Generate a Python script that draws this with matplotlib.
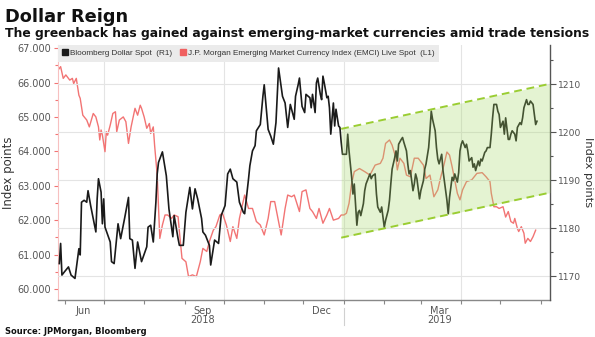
import matplotlib
matplotlib.use("Agg")
import matplotlib.pyplot as plt
import matplotlib.dates as mdates
import matplotlib.transforms as mtransforms
from matplotlib.lines import Line2D
from matplotlib.ticker import FixedLocator, FuncFormatter
import pandas as pd

# Bloomberg Dollar Spot (right axis)
black_dates = [
    '2018-05-28', '2018-05-29', '2018-05-30', '2018-06-01', '2018-06-04', '2018-06-06', '2018-06-09',
    '2018-06-11', '2018-06-12', '2018-06-13', '2018-06-14', '2018-06-16', '2018-06-18', '2018-06-19',
    '2018-06-21', '2018-06-25', '2018-06-26', '2018-06-27', '2018-06-29', '2018-06-30', '2018-07-01',
    '2018-07-02', '2018-07-06', '2018-07-07', '2018-07-09', '2018-07-12', '2018-07-14', '2018-07-17',
    '2018-07-20', '2018-07-21', '2018-07-23', '2018-07-25', '2018-07-27', '2018-07-30', '2018-08-03',
    '2018-08-04', '2018-08-06', '2018-08-08', '2018-08-10', '2018-08-11', '2018-08-12', '2018-08-15',
    '2018-08-18', '2018-08-20', '2018-08-23', '2018-08-24', '2018-08-27', '2018-08-28', '2018-08-31',
    '2018-09-02', '2018-09-05', '2018-09-07', '2018-09-09', '2018-09-11', '2018-09-14', '2018-09-15',
    '2018-09-17', '2018-09-20', '2018-09-21', '2018-09-24', '2018-09-27', '2018-09-29', '2018-10-02',
    '2018-10-04', '2018-10-06', '2018-10-08', '2018-10-11', '2018-10-13', '2018-10-16', '2018-10-17',
    '2018-10-20', '2018-10-21', '2018-10-23', '2018-10-25', '2018-10-26', '2018-10-29', '2018-10-31',
    '2018-11-01', '2018-11-04', '2018-11-06', '2018-11-08', '2018-11-10', '2018-11-12', '2018-11-15',
    '2018-11-17', '2018-11-19', '2018-11-21', '2018-11-24', '2018-11-25', '2018-11-27', '2018-11-28',
    '2018-11-30', '2018-12-02', '2018-12-03', '2018-12-06', '2018-12-07', '2018-12-08', '2018-12-10',
    '2018-12-11', '2018-12-12', '2018-12-14', '2018-12-15', '2018-12-16', '2018-12-17', '2018-12-19',
    '2018-12-20', '2018-12-21', '2018-12-22', '2018-12-24', '2018-12-25', '2018-12-26', '2018-12-28',
    '2018-12-29', '2018-12-30', '2018-12-31', '2019-01-03', '2019-01-04', '2019-01-05', '2019-01-07',
    '2019-01-08', '2019-01-09', '2019-01-11', '2019-01-12', '2019-01-13', '2019-01-14', '2019-01-16',
    '2019-01-17', '2019-01-18', '2019-01-20', '2019-01-21', '2019-01-22', '2019-01-23', '2019-01-25',
    '2019-01-26', '2019-01-27', '2019-01-29', '2019-01-30', '2019-01-31', '2019-02-01', '2019-02-02',
    '2019-02-04', '2019-02-05', '2019-02-06', '2019-02-07', '2019-02-09', '2019-02-10', '2019-02-11',
    '2019-02-12', '2019-02-14', '2019-02-15', '2019-02-16', '2019-02-18', '2019-02-19', '2019-02-20',
    '2019-02-21', '2019-02-23', '2019-02-24', '2019-02-25', '2019-02-26', '2019-02-28', '2019-03-01',
    '2019-03-03', '2019-03-04', '2019-03-05', '2019-03-07', '2019-03-08', '2019-03-09', '2019-03-10',
    '2019-03-12', '2019-03-13', '2019-03-14', '2019-03-15', '2019-03-17', '2019-03-18', '2019-03-19',
    '2019-03-21', '2019-03-22', '2019-03-23', '2019-03-25', '2019-03-26', '2019-03-27', '2019-03-29',
    '2019-03-30', '2019-03-31', '2019-04-01', '2019-04-02', '2019-04-04', '2019-04-05', '2019-04-06',
    '2019-04-07', '2019-04-09', '2019-04-10', '2019-04-11', '2019-04-12', '2019-04-14', '2019-04-15',
    '2019-04-16', '2019-04-17', '2019-04-19', '2019-04-20', '2019-04-21', '2019-04-23', '2019-04-24',
    '2019-04-25', '2019-04-26', '2019-04-28', '2019-04-29', '2019-04-30', '2019-05-01', '2019-05-03',
    '2019-05-04', '2019-05-05', '2019-05-07', '2019-05-08', '2019-05-09', '2019-05-10', '2019-05-12',
    '2019-05-13', '2019-05-14', '2019-05-16', '2019-05-17', '2019-05-18', '2019-05-19', '2019-05-21',
    '2019-05-22', '2019-05-23', '2019-05-24', '2019-05-26', '2019-05-27', '2019-05-28', '2019-05-29',
]
black_vals = [
    1172.6, 1176.8, 1170.2, 1170.9, 1171.9, 1170.2, 1169.5,
    1173.7, 1175.7, 1174.4, 1185.4, 1185.8, 1185.4, 1187.8,
    1184.7, 1179.2, 1186.1, 1190.3, 1187.5, 1180.9, 1186.1,
    1180.2, 1177.1, 1173.0, 1172.6, 1180.9, 1177.8, 1182.0,
    1186.4, 1177.8, 1177.5, 1171.6, 1177.1, 1173.0, 1176.1,
    1180.2, 1180.6, 1177.1, 1185.4, 1191.3, 1193.7, 1195.9,
    1190.9, 1184.0, 1178.2, 1182.6, 1177.8, 1176.4, 1176.4,
    1183.3, 1188.5, 1184.0, 1188.2, 1186.1, 1182.0, 1179.2,
    1178.5, 1176.4, 1172.3, 1177.5, 1176.8, 1182.6, 1184.7,
    1191.3, 1192.3, 1190.3, 1189.6, 1185.4, 1183.3, 1183.0,
    1190.3, 1193.0, 1196.1, 1197.2, 1200.3, 1201.6, 1207.5,
    1209.9, 1200.6, 1199.2, 1197.5, 1202.0, 1213.4, 1207.5,
    1206.1, 1201.0, 1205.8, 1202.7, 1207.5, 1209.9, 1211.3,
    1205.4, 1204.1, 1207.9, 1207.2, 1205.1, 1207.9, 1204.1,
    1210.3, 1211.3, 1207.9, 1206.8, 1211.7, 1210.3, 1207.2,
    1207.5, 1205.1, 1199.6, 1206.1, 1201.3, 1204.8, 1201.3,
    1201.0, 1197.9, 1195.4, 1195.4, 1199.6, 1196.1, 1190.6,
    1187.1, 1189.2, 1180.6, 1183.3, 1183.7, 1182.6, 1185.1,
    1187.8, 1189.2, 1190.6, 1191.3, 1190.3, 1190.9, 1191.3,
    1187.1, 1184.4, 1183.3, 1184.4, 1182.3, 1180.2, 1181.6,
    1183.7, 1185.8, 1189.2, 1192.3, 1194.7, 1196.1, 1194.0,
    1197.5, 1198.5, 1198.9, 1197.9, 1196.1, 1193.4, 1191.3,
    1192.0, 1187.8, 1189.2, 1191.3, 1190.3, 1186.1, 1187.8,
    1189.9, 1192.3, 1193.4, 1196.8, 1200.3, 1204.4, 1202.7,
    1200.3, 1196.8, 1194.4, 1193.4, 1195.4, 1192.0, 1189.9,
    1185.8, 1183.0, 1186.4, 1190.6, 1189.9, 1191.3, 1189.6,
    1191.6, 1196.1, 1197.5, 1198.2, 1196.8, 1197.5, 1196.1,
    1194.0, 1194.7, 1192.7, 1193.4, 1192.0, 1194.0, 1193.0,
    1194.4, 1194.0, 1195.8, 1196.1, 1196.8, 1196.8, 1199.6,
    1203.0, 1205.8, 1205.8, 1204.4, 1203.7, 1201.0, 1202.3,
    1199.6, 1203.0, 1198.5, 1198.5, 1199.6, 1200.3, 1199.6,
    1198.2, 1201.0, 1202.0, 1201.6, 1203.0, 1205.1, 1206.8,
    1205.8, 1205.8, 1206.5, 1205.8, 1203.7, 1201.6, 1202.3,
]

# J.P. Morgan EMCI (left axis)
red_dates = [
    '2018-05-27', '2018-05-29', '2018-05-31', '2018-06-02', '2018-06-05', '2018-06-07', '2018-06-08',
    '2018-06-10', '2018-06-12', '2018-06-13', '2018-06-15', '2018-06-18', '2018-06-20', '2018-06-23',
    '2018-06-25', '2018-06-27', '2018-06-28', '2018-06-29', '2018-06-30', '2018-07-02', '2018-07-03',
    '2018-07-04', '2018-07-06', '2018-07-08', '2018-07-10', '2018-07-11', '2018-07-13', '2018-07-16',
    '2018-07-18', '2018-07-20', '2018-07-22', '2018-07-25', '2018-07-27', '2018-07-29', '2018-07-30',
    '2018-08-01', '2018-08-03', '2018-08-05', '2018-08-06', '2018-08-08', '2018-08-09', '2018-08-11',
    '2018-08-13', '2018-08-15', '2018-08-17', '2018-08-19', '2018-08-22', '2018-08-24', '2018-08-27',
    '2018-08-28', '2018-08-30', '2018-09-02', '2018-09-04', '2018-09-07', '2018-09-10', '2018-09-13',
    '2018-09-15', '2018-09-18', '2018-09-20', '2018-09-23', '2018-09-25', '2018-09-28', '2018-09-30',
    '2018-10-03', '2018-10-06', '2018-10-08', '2018-10-11', '2018-10-13', '2018-10-17', '2018-10-20',
    '2018-10-23', '2018-10-26', '2018-10-29', '2018-11-01', '2018-11-04', '2018-11-06', '2018-11-09',
    '2018-11-12', '2018-11-14', '2018-11-17', '2018-11-19', '2018-11-22', '2018-11-24', '2018-11-28',
    '2018-11-30', '2018-12-03', '2018-12-06', '2018-12-08', '2018-12-11', '2018-12-13', '2018-12-16',
    '2018-12-19', '2018-12-21', '2018-12-24', '2018-12-28', '2018-12-30', '2019-01-01', '2019-01-03',
    '2019-01-05', '2019-01-07', '2019-01-09', '2019-01-13', '2019-01-17', '2019-01-21', '2019-01-25',
    '2019-01-29', '2019-01-31', '2019-02-02', '2019-02-05', '2019-02-07', '2019-02-10', '2019-02-11',
    '2019-02-13', '2019-02-16', '2019-02-18', '2019-02-21', '2019-02-24', '2019-02-27', '2019-03-03',
    '2019-03-05', '2019-03-08', '2019-03-10', '2019-03-11', '2019-03-14', '2019-03-16', '2019-03-19',
    '2019-03-21', '2019-03-23', '2019-03-25', '2019-03-27', '2019-03-29', '2019-03-31', '2019-04-02',
    '2019-04-05', '2019-04-09', '2019-04-13', '2019-04-17', '2019-04-20', '2019-04-23', '2019-04-24',
    '2019-04-26', '2019-04-28', '2019-04-30', '2019-05-03', '2019-05-05', '2019-05-07', '2019-05-09',
    '2019-05-11', '2019-05-12', '2019-05-14', '2019-05-15', '2019-05-17', '2019-05-19', '2019-05-20',
    '2019-05-22', '2019-05-24', '2019-05-26', '2019-05-28',
]
red_vals = [
    66.36, 66.46, 66.12, 66.22, 66.07, 66.12, 65.97,
    66.12, 65.63, 65.54, 65.05, 64.91, 64.71, 65.10,
    65.00, 64.71, 64.33, 64.62, 64.47, 63.99, 64.57,
    64.47, 64.76, 65.10, 65.15, 64.57, 64.91, 65.00,
    64.86, 64.23, 64.71, 65.25, 65.05, 65.34, 65.25,
    65.00, 64.67, 64.81, 64.52, 64.71, 64.18, 63.31,
    61.47, 61.86, 62.15, 62.15, 62.05, 62.15, 62.10,
    61.67, 60.89, 60.79, 60.36, 60.41, 60.36, 60.79,
    61.18, 61.09, 61.38, 61.71, 61.81, 62.15, 62.20,
    61.86, 61.38, 61.81, 61.47, 62.05, 62.73, 62.34,
    62.34, 61.96, 61.86, 61.57, 62.05, 62.54, 62.54,
    61.96, 61.57, 62.34, 62.73, 62.68, 62.73, 62.25,
    62.83, 62.88, 62.34, 62.25, 62.05, 62.34, 61.91,
    62.15, 62.34, 62.00, 62.05, 62.15, 62.15, 62.20,
    62.49, 63.07, 63.41, 63.50, 63.41, 63.31, 63.60,
    63.65, 63.80, 64.23, 64.33, 64.18, 63.80, 63.46,
    63.80, 63.65, 63.31, 63.26, 63.80, 63.80, 63.60,
    63.21, 63.31, 62.88, 62.68, 62.88, 63.21, 63.65,
    63.98, 63.89, 63.55, 63.17, 62.78, 62.59, 62.88,
    63.12, 63.17, 63.36, 63.38, 63.26, 63.12, 62.78,
    62.39, 62.39, 62.34, 62.39, 62.09, 62.25, 61.96,
    61.91, 62.05, 61.76, 61.67, 61.81, 61.62, 61.33,
    61.47, 61.38, 61.52, 61.71,
]

# trend channel drawn on the dollar index (right axis)
channel_dates = ['2018-12-30', '2019-06-08']
channel_upper = [1200.7, 1210.1]
channel_lower = [1178.0, 1187.4]

month_label_dates = ['2018-06-15', '2018-09-15', '2018-12-15', '2019-03-15']
month_labels = ['Jun', 'Sep', 'Dec', 'Mar']
year_label_dates = ['2018-09-15', '2019-03-15']
year_labels = ['2018', '2019']

left_ticks = [60, 61, 62, 63, 64, 65, 66, 67]
right_ticks = [1170, 1180, 1190, 1200, 1210]

BLACK = '#1a1a1a'
RED = '#f27474'
GREEN = '#9acd32'
TXT = '#555555'

fig = plt.figure(figsize=(5.95, 3.37), dpi=100)
ax = fig.add_axes([0.0975, 0.1098, 0.8269, 0.7567])
ax2 = ax.twinx()

ax.plot(pd.to_datetime(red_dates), red_vals, color=RED, lw=1.0, zorder=2)
ax2.plot(pd.to_datetime(black_dates), black_vals, color=BLACK, lw=1.2, zorder=2)

cd = pd.to_datetime(channel_dates)
ax2.fill_between(cd, channel_lower, channel_upper, color='#a6d96a', alpha=0.3, lw=0, zorder=3)
ax2.plot(cd, channel_upper, color=GREEN, lw=1.4, ls=(0, (4, 2.5)), zorder=4)
ax2.plot(cd, channel_lower, color=GREEN, lw=1.4, ls=(0, (4, 2.5)), zorder=4)

ax.set_xlim(pd.Timestamp('2018-05-27'), pd.Timestamp('2019-06-08'))
ax.set_ylim(59.68, 67.09)
ax2.set_ylim(1165.0, 1218.2)

# grid: horizontal from the right axis, vertical at quarter starts
ax2.yaxis.grid(True, color='#e4e4e4', lw=0.8)
ax2.set_axisbelow(True)
for q in pd.date_range('2018-07-01', '2019-04-01', freq='QS'):
    ax.axvline(q, color='#e4e4e4', lw=0.8, zorder=0)

# x axis
ax.set_xticks(pd.to_datetime(month_label_dates))
ax.set_xticklabels(month_labels)
ax.set_xticks(pd.date_range('2018-06-01', '2019-06-01', freq='MS'), minor=True)
ax.tick_params(axis='x', which='major', length=0, pad=4, labelsize=7, labelcolor=TXT)
ax.tick_params(axis='x', which='minor', length=3, color='#888888', width=0.8)
blend = mtransforms.blended_transform_factory(ax.transData, ax.transAxes)
for d, t in zip(year_label_dates, year_labels):
    ax.text(mdates.date2num(pd.Timestamp(d)), -0.078, t, transform=blend,
            ha='center', va='center', fontsize=7, color=TXT)
jan = mdates.date2num(pd.Timestamp('2019-01-01'))
ax.plot([jan, jan], [-0.03, -0.1], transform=blend, clip_on=False, color='#d0d0d0', lw=0.8)

# left axis (EMCI)
ax.yaxis.set_major_locator(FixedLocator(left_ticks))
ax.yaxis.set_major_formatter(FuncFormatter(lambda v, p: f'{v:.3f}'))
ax.set_yticks([v + 0.5 for v in left_ticks[:-1]], minor=True)
ax.tick_params(axis='y', which='both', colors=RED, labelcolor=TXT, labelsize=7, width=0.8)
ax.tick_params(axis='y', which='major', length=3, pad=2)
ax.tick_params(axis='y', which='minor', length=2)
ax.set_ylabel('Index points', fontsize=8.5, color='#333333')
ax.yaxis.set_label_coords(-0.088, 0.5)

# right axis (dollar)
ax2.yaxis.set_major_locator(FixedLocator(right_ticks))
ax2.set_yticks([v + 5 for v in right_ticks], minor=True)
ax2.tick_params(axis='y', which='both', colors='#555555', labelcolor=TXT, labelsize=6.6, width=0.8)
ax2.tick_params(axis='y', which='major', length=4, pad=1.5)
ax2.tick_params(axis='y', which='minor', length=2.5)
ax2.set_ylabel('Index points', fontsize=8.2, color='#333333', rotation=270, va='center')
ax2.yaxis.set_label_coords(1.077, 0.5)

for s in ['top', 'right']:
    ax.spines[s].set_visible(False)
ax.spines['left'].set_color('#f7c0c0')
ax.spines['left'].set_linewidth(0.8)
ax.spines['bottom'].set_color('#888888')
ax.spines['bottom'].set_linewidth(1.0)
for s in ['top', 'left', 'bottom']:
    ax2.spines[s].set_visible(False)
ax2.spines['right'].set_color('#555555')
ax2.spines['right'].set_linewidth(1.0)

# legend
handles = [Line2D([], [], marker='s', ls='', color=BLACK, ms=4),
           Line2D([], [], marker='s', ls='', color='#f06060', ms=4)]
labels = ['Bloomberg Dollar Spot  (R1)',
          'J.P. Morgan Emerging Market Currency Index (EMCI) Live Spot  (L1)']
leg = ax2.legend(handles, labels, loc='upper left', bbox_to_anchor=(0, 1), ncol=2,
                 frameon=True, fancybox=False, framealpha=1, borderaxespad=0,
                 handlelength=0.6, handletextpad=0.3, columnspacing=1.0, borderpad=0.55,
                 prop={'family': 'Liberation Sans', 'size': 5.9})
leg.get_frame().set_facecolor('#ebebeb')
leg.get_frame().set_edgecolor('none')
for t in leg.get_texts():
    t.set_color('#333333')
leg.set_zorder(10)

fig.text(0.008, 1 - 8 / 337, 'Dollar Reign', ha='left', va='top', fontsize=12.8,
         fontweight='bold', color='#111111')
fig.text(0.008, 1 - 27 / 337,
         'The greenback has gained against emerging-market currencies amid trade tensions',
         ha='left', va='top', fontsize=8.9, fontweight='bold', color='#111111')
fig.text(0.008, 1 - 334 / 337, 'Source: JPMorgan, Bloomberg', ha='left', va='baseline',
         fontsize=6.0, fontweight='bold', color='#111111')

fig.savefig('out.png', dpi=100, facecolor='white')
